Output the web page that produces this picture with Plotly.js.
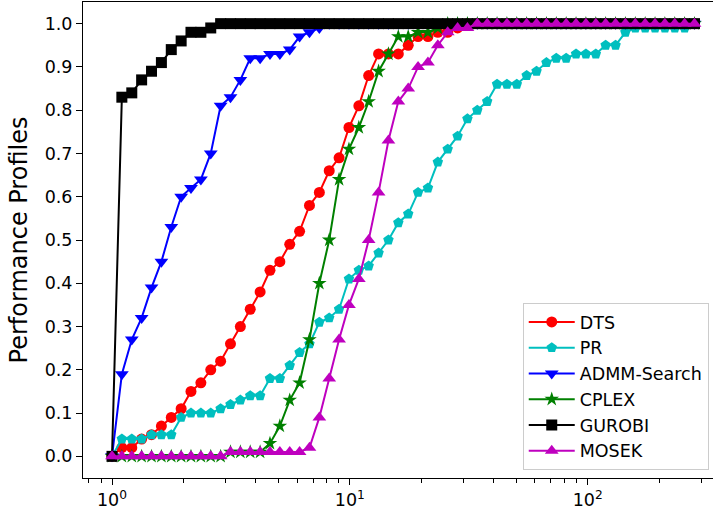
<!DOCTYPE html>
<html><head><meta charset="utf-8">
<script src="https://cdn.plot.ly/plotly-3.0.1.min.js"></script>
<style>html,body{margin:0;padding:0;background:#fff}#chart{width:713px;height:514px}</style>
</head><body><div id="chart"></div><script>
const tau = [
  1,1.1,1.211,1.332,1.466,1.613,1.775,1.953,2.148,2.364,
  2.601,2.862,3.149,3.465,3.812,4.195,4.615,5.078,5.588,6.148,
  6.765,7.443,8.19,9.011,9.915,10.91,12.0,13.21,14.53,15.99,
  17.6,19.36,21.3,23.44,25.79,28.38,31.22,34.35,37.8,41.59,
  45.76,50.35,55.4,60.96,67.08,73.8,81.21,89.35,98.31,108.2,
  119.0,131.0,144.1,158.6,174.5,192.0,211.2,232.4,255.7,281.3
];
const dts = [
  0,0.02,0.02,0.04,0.05,0.07,0.09,0.11,0.15,0.17,
  0.20,0.22,0.26,0.30,0.34,0.38,0.43,0.45,0.49,0.52,
  0.58,0.61,0.66,0.69,0.76,0.81,0.88,0.93,0.93,0.93,
  0.95,0.97,0.97,0.98,0.98,0.99,1,1,1,1,
  1,1,1,1,1,1,1,1,1,1,
  1,1,1,1,1,1,1,1,1,1
];
const pr = [
  0,0.04,0.04,0.04,0.05,0.05,0.05,0.09,0.10,0.10,
  0.10,0.11,0.12,0.13,0.14,0.14,0.18,0.18,0.21,0.24,
  0.26,0.31,0.32,0.34,0.41,0.43,0.44,0.47,0.50,0.54,
  0.56,0.61,0.62,0.68,0.71,0.74,0.78,0.80,0.82,0.86,
  0.86,0.86,0.88,0.89,0.91,0.92,0.92,0.93,0.93,0.93,
  0.95,0.95,0.98,0.99,0.99,0.99,0.99,0.99,0.99,1
];
const admm = [
  0,0.19,0.27,0.32,0.39,0.45,0.53,0.60,0.62,0.64,
  0.70,0.81,0.83,0.87,0.92,0.92,0.93,0.93,0.94,0.97,
  0.98,0.99,1,1,1,1,1,1,1,1,
  1,1,1,1,1,1,1,1,1,1,
  1,1,1,1,1,1,1,1,1,1,
  1,1,1,1,1,1,1,1,1,1
];
const cplex = [
  0,0,0,0,0,0,0,0,0,0,
  0,0,0.01,0.01,0.01,0.01,0.03,0.07,0.13,0.17,
  0.27,0.40,0.50,0.64,0.71,0.76,0.82,0.89,0.93,0.97,
  0.97,0.98,0.98,0.99,1,1,1,1,1,1,
  1,1,1,1,1,1,1,1,1,1,
  1,1,1,1,1,1,1,1,1,1
];
const gurobi = [
  0,0.83,0.84,0.87,0.89,0.91,0.94,0.96,0.98,0.98,
  0.99,1,1,1,1,1,1,1,1,1,
  1,1,1,1,1,1,1,1,1,1,
  1,1,1,1,1,1,1,1,1,1,
  1,1,1,1,1,1,1,1,1,1,
  1,1,1,1,1,1,1,1,1,1
];
const mosek = [
  0,0,0,0,0,0,0,0,0,0,
  0,0,0.01,0.01,0.01,0.01,0.01,0.01,0.01,0.01,
  0.02,0.09,0.18,0.27,0.35,0.41,0.50,0.61,0.73,0.82,
  0.85,0.90,0.91,0.95,0.98,0.99,0.99,1,1,1,
  1,1,1,1,1,1,1,1,1,1,
  1,1,1,1,1,1,1,1,1,1
];
const names = ['DTS','PR','ADMM-Search','CPLEX','GUROBI','MOSEK'];
const yTickVals = [0,0.1,0.2,0.3,0.4,0.5,0.6,0.7,0.8,0.9,1.0];
const yTickText = ['0.0','0.1','0.2','0.3','0.4','0.5','0.6','0.7','0.8','0.9','1.0'];
const xTickVals = [1,10,100];
const xTickText = ['10<sup>0</sup>','10<sup>1</sup>','10<sup>2</sup>'];
const xMinorVals = [0.8,0.9,2,3,4,5,6,7,8,9,20,30,40,50,60,70,80,90,200,300];

const series = [dts, pr, admm, cplex, gurobi, mosek];
const colors = ['#ff0000','#00bfbf','#0000ff','#008000','#000000','#bf00bf'];
const symbols = ['circle','pentagon','triangle-down','star','square','triangle-up'];
const sizes = [11,11,12,11,11,12];

const traces = series.map((ys, k) => ({
  x: tau, y: ys, type: 'scatter', mode: 'lines+markers', name: names[k],
  line: {color: colors[k], width: 2},
  marker: {symbol: symbols[k], size: sizes[k], color: colors[k], line: {width: 0}}
}));

const font = 'DejaVu Sans, Arial, sans-serif';
const layout = {
  width: 713, height: 514,
  margin: {l: 83, r: 0, t: 2, b: 36},
  paper_bgcolor: '#fff', plot_bgcolor: '#fff',
  font: {family: font, color: '#000', size: 17},
  showlegend: true,
  xaxis: {
    type: 'log', range: [-0.122, 2.527],
    showline: true, linecolor: '#000', linewidth: 1, mirror: true,
    ticks: 'outside', ticklen: 6, tickwidth: 1, tickcolor: '#000',
    tickvals: xTickVals, ticktext: xTickText,
    tickfont: {size: 17.5, family: font},
    showgrid: false, zeroline: false,
    minor: {ticks: 'outside', ticklen: 3.5, tickwidth: 1, tickcolor: '#000', tickvals: xMinorVals, showgrid: false}
  },
  yaxis: {
    range: [-0.05, 1.05],
    showline: true, linecolor: '#000', linewidth: 1, mirror: true,
    ticks: 'outside', ticklen: 6, tickwidth: 1, tickcolor: '#000',
    tickvals: yTickVals, ticktext: yTickText,
    tickfont: {size: 17.5, family: font},
    showgrid: false, zeroline: false,
    title: {text: 'Performance Profiles', font: {size: 24, family: font}, standoff: 10}
  },
  legend: {
    x: 0.698, y: 0.3676, xanchor: 'left', yanchor: 'top',
    bgcolor: 'rgba(255,255,255,0.8)', bordercolor: '#cccccc', borderwidth: 1,
    font: {size: 17.5, family: font}, itemwidth: 46
  }
};
Plotly.newPlot('chart', traces, layout, {displayModeBar: false, staticPlot: true});
</script></body></html>
